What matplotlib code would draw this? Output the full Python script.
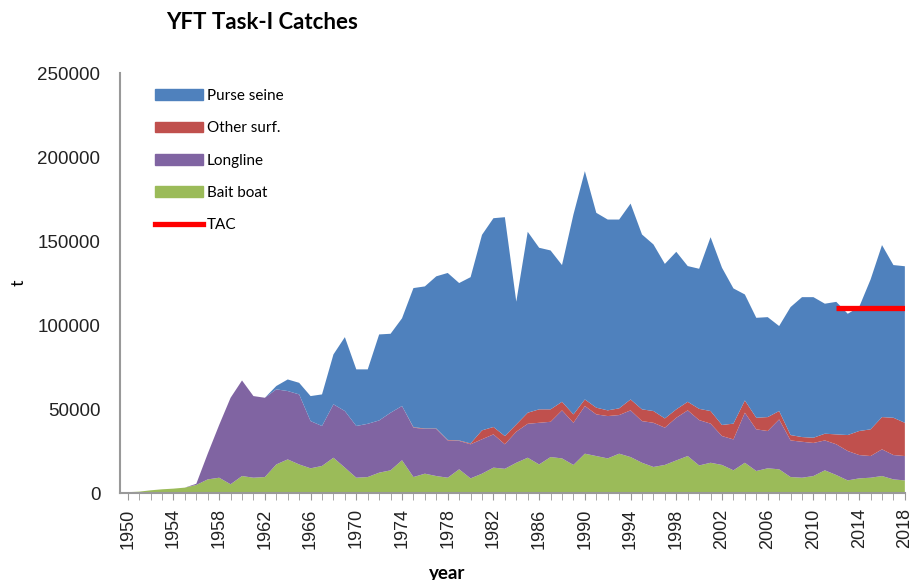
# Import libraries
import matplotlib
matplotlib.use("Agg")
import matplotlib.pyplot as plt
from matplotlib.patches import Patch
from matplotlib.lines import Line2D

# Data (t)
years = list(range(1950, 2019))

bait_boat = [500, 800, 1600, 2200, 2600, 3200, 4800, 8100, 9100, 5200,
             10100, 9100, 9500, 17000, 20000, 17000, 14700, 16100, 21000, 15100,
             9100, 9500, 12100, 13500, 19500, 9500, 11500, 10100, 9100, 14100,
             8700, 11500, 15100, 14400, 18000, 21000, 17000, 21400, 20600, 16700,
             23400, 22000, 20600, 23400, 21400, 18000, 15500, 16700, 19400, 22000,
             16400, 18000, 16700, 13500, 18000, 13100, 14700, 14100, 9500, 9100,
             10100, 13500, 10700, 7500, 8700, 9100, 10100, 8100, 7500]

longline = [0, 0, 0, 0, 0, 0, 700, 15300, 31400, 51500,
            56900, 48600, 47200, 44700, 40700, 41700, 28100, 23800, 31800, 33700,
            30800, 31700, 31100, 34300, 32300, 29400, 26600, 28000, 22200, 16900,
            20300, 20500, 19800, 14600, 18500, 20200, 24800, 21000, 28600, 25100,
            28400, 24800, 25200, 23000, 27800, 24800, 26300, 22200, 25400, 27200,
            27000, 23300, 17200, 18400, 29800, 24800, 22200, 29700, 21800, 21400,
            19700, 17800, 18300, 17500, 13900, 12900, 15900, 14500, 14500]

other_surf = [0, 0, 0, 0, 0, 0, 0, 0, 0, 0,
              0, 0, 0, 0, 0, 0, 0, 0, 0, 0,
              0, 0, 0, 0, 0, 300, 300, 300, 300, 300,
              500, 5300, 4400, 4900, 4300, 6600, 8000, 7400, 5100, 5000,
              3900, 4000, 3400, 4000, 6500, 7000, 7000, 5500, 5000, 5100,
              6700, 7500, 6600, 9400, 7300, 6900, 8300, 5000, 3200, 2800,
              3100, 4000, 5900, 9500, 14300, 15900, 19200, 22200, 19800]

purse_seine = [0, 0, 0, 0, 0, 0, 0, 0, 0, 0,
               0, 0, 0, 2000, 6900, 6900, 14900, 18800, 29700, 44000,
               33700, 32400, 51200, 47000, 52200, 82800, 84600, 90600, 99400, 93700,
               99000, 116400, 124300, 130300, 73100, 107700, 96200, 94600, 81400, 119000,
               135900, 116000, 113600, 112400, 116600, 104100, 99200, 92000, 93800, 80800,
               83400, 103500, 93600, 80500, 63100, 59500, 59500, 50600, 76200, 83300,
               83700, 77400, 78900, 72200, 73800, 89200, 102400, 90900, 93200]

tac_years = [2012, 2018]
tac_value = [110000, 110000]

# Colors
c_bb = "#9BBB59"
c_ll = "#8064A2"
c_os = "#C0504D"
c_ps = "#4F81BD"

# Graph create
fig = plt.figure(figsize=(9.14, 5.8), dpi=100)
ax = fig.add_axes([0.131, 0.150, 0.859, 0.724])

ax.stackplot(years, bait_boat, longline, other_surf, purse_seine,
             colors=[c_bb, c_ll, c_os, c_ps], linewidth=0)
ax.plot(tac_years, tac_value, color="#FF0000", linewidth=3.8, solid_capstyle="butt")

ax.set_xlim(1949.3, 2018)
ax.set_ylim(0, 250000)
ax.set_yticks(range(0, 250001, 50000))
ax.set_xticks(range(1950, 2019, 4))
ax.set_xticks(years, minor=True)

ax.tick_params(axis="y", length=0, pad=14, labelsize=13.5, labelcolor="#222222")
ax.tick_params(axis="x", which="major", length=5, pad=6, labelsize=13,
               labelrotation=90, color="#999999", labelcolor="#222222")
ax.tick_params(axis="x", which="minor", length=5, color="#999999")
for lab in ax.get_xticklabels() + ax.get_yticklabels():
    lab.set_fontfamily("Liberation Sans")

for s in ["top", "right"]:
    ax.spines[s].set_visible(False)
for s in ["left", "bottom"]:
    ax.spines[s].set_color("#999999")
    ax.spines[s].set_linewidth(1.5)

# Texts
fig.text(0.287, 0.962, "YFT Task-I Catches", ha="center", va="center",
         fontsize=16, fontweight="bold", fontfamily="Lato")
fig.text(0.02, 0.512, "t", rotation=90, ha="center", va="center",
         fontsize=13, fontfamily="Lato")
fig.text(0.489, 0.012, "year", ha="center", va="center",
         fontsize=13.5, fontweight="bold", fontfamily="Lato")

# Legend
handles = [Patch(color=c_ps), Patch(color=c_os), Patch(color=c_ll), Patch(color=c_bb),
           Line2D([0], [0], color="#FF0000", linewidth=3.8)]
labels = ["Purse seine", "Other surf.", "Longline", "Bait boat", "TAC"]
ax.legend(handles, labels, loc="upper left", bbox_to_anchor=(0.028, 0.995),
          frameon=False, handlelength=3.1, handletextpad=0.25,
          labelspacing=1.2, prop={"family": "Lato", "size": 11})

plt.savefig("out.png", dpi=100)
